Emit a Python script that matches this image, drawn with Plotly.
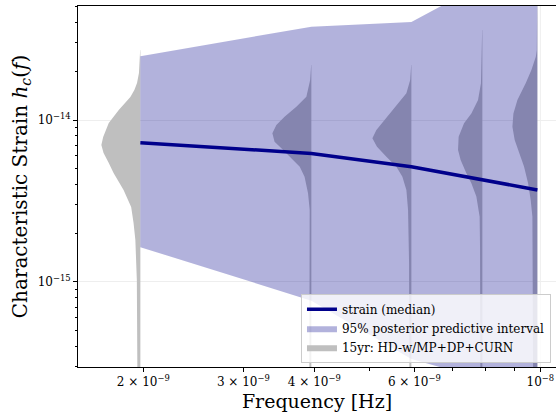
import plotly.graph_objects as go

# Frequency bins (Hz)
FREQS = [1.976e-9, 3.952e-9, 5.928e-9, 7.904e-9, 9.880e-9]

# Median characteristic strain and 95% posterior predictive interval
STRAIN_MEDIAN = [7.24e-15, 6.22e-15, 5.15e-15, 4.27e-15, 3.70e-15]
STRAIN_LOW = [1.64e-15, 7.67e-16, 3.35e-16, 2.51e-16, 2.00e-16]
STRAIN_HIGH = [2.48e-14, 3.77e-14, 4.03e-14, 6.92e-14, 7.94e-14]

# 15yr posterior density profiles per frequency bin: log10(h_c) levels and density
VIOLIN_LOG_H = [
    [-13.568, -13.599, -13.710, -13.772, -13.815, -13.858, -13.938, -14.019, -14.105,
     -14.154, -14.204, -14.265, -14.327, -14.432, -14.537, -14.636, -14.741, -14.988, -15.543],
    [-13.660, -13.753, -13.856, -13.918, -13.980, -14.031, -14.082, -14.134, -14.175,
     -14.227, -14.288, -14.350, -14.452, -14.556, -14.883, -15.543],
    [-13.660, -13.753, -13.835, -13.897, -13.980, -14.062, -14.113, -14.165, -14.227,
     -14.288, -14.350, -14.432, -14.556, -14.883, -15.543],
    [-13.444, -13.609, -13.773, -13.877, -13.959, -14.020, -14.103, -14.185, -14.247,
     -14.329, -14.391, -14.473, -14.597, -14.784, -15.543],
    [-13.259, -13.568, -13.609, -13.691, -13.773, -13.877, -13.959, -14.041, -14.123,
     -14.206, -14.288, -14.391, -14.494, -14.597, -14.784, -15.191, -15.543],
]
VIOLIN_DENSITY = [
    [0.005, 0.015, 0.035, 0.083, 0.15, 0.25, 0.54, 0.79, 0.93,
     0.975, 0.92, 0.79, 0.67, 0.42, 0.23, 0.17, 0.125, 0.088, 0.075],
    [0.005, 0.03, 0.125, 0.375, 0.67, 0.875, 0.975, 0.92, 0.75,
     0.54, 0.29, 0.17, 0.083, 0.042, 0.045, 0.05],
    [0.005, 0.03, 0.125, 0.33, 0.625, 0.875, 0.975, 0.86, 0.625,
     0.375, 0.225, 0.125, 0.083, 0.058, 0.05],
    [0.005, 0.012, 0.035, 0.108, 0.275, 0.458, 0.593, 0.608, 0.543,
     0.40, 0.275, 0.15, 0.068, 0.058, 0.05],
    [0.006, 0.015, 0.04, 0.15, 0.293, 0.50, 0.60, 0.625, 0.568,
     0.458, 0.333, 0.233, 0.168, 0.125, 0.125, 0.113, 0.108],
]

X_TICKS = [2e-9, 3e-9, 4e-9, 6e-9, 1e-8]
X_TICK_TEXT = ["2 × 10<sup>−9</sup>", "3 × 10<sup>−9</sup>", "4 × 10<sup>−9</sup>",
               "6 × 10<sup>−9</sup>", "10<sup>−8</sup>"]
X_MINOR = [5e-9, 7e-9, 8e-9, 9e-9]
Y_TICKS = [1e-15, 1e-14]
Y_TICK_TEXT = ["10<sup>−15</sup>", "10<sup>−14</sup>"]
Y_MINOR = [m * 10.0 ** e for e in (-16, -15, -14) for m in range(2, 10)]

# styling
FONT = "DejaVu Serif"
VIOLIN_WIDTH_DEC = 0.0704  # half-width of a unit-density violin, in decades of frequency
GREY = "rgb(191,191,191)"
BAND = "rgba(0,0,139,0.3)"
NAVY = "#00008b"

fig = go.Figure()

# half violins on the low-frequency side of each bin
for i, (f, logs, dens) in enumerate(zip(FREQS, VIOLIN_LOG_H, VIOLIN_DENSITY)):
    xs = [f * 10 ** (-d * VIOLIN_WIDTH_DEC) for d in dens] + [f] * len(logs)
    ys = [10 ** v for v in logs] + [10 ** v for v in logs[::-1]]
    xs = xs + [xs[0]]
    ys = ys + [ys[0]]
    fig.add_trace(go.Scatter(
        x=xs, y=ys, mode="lines", fill="toself", fillcolor=GREY,
        line=dict(width=0, color=GREY), hoverinfo="skip",
        name="15yr: HD-w/MP+DP+CURN", legendgroup="v", showlegend=(i == 0),
        legendrank=3,
    ))

# 95% band
fig.add_trace(go.Scatter(
    x=FREQS + FREQS[::-1], y=STRAIN_HIGH + STRAIN_LOW[::-1],
    mode="lines", fill="toself", fillcolor=BAND, line=dict(width=0, color=BAND),
    name="95% posterior predictive interval", legendrank=2,
))

# median
fig.add_trace(go.Scatter(
    x=FREQS, y=STRAIN_MEDIAN, mode="lines", line=dict(color=NAVY, width=3.5),
    name="strain (median)", legendrank=1,
))

fig.add_shape(type="line", xref="x", yref="paper", x0=1e-8, x1=1e-8, y0=0, y1=1,
              line=dict(color="rgb(238,238,238)", width=1), layer="below")

fig.update_layout(
    width=556, height=412,
    margin=dict(l=78, r=0, t=6, b=45),
    paper_bgcolor="white", plot_bgcolor="white",
    font=dict(family=FONT, color="black", size=12),
    legend=dict(
        x=0.9895, y=0.012, xanchor="right", yanchor="bottom",
        bgcolor="rgba(255,255,255,0.8)", bordercolor="rgb(204,204,204)", borderwidth=1,
        font=dict(family=FONT, size=12, color="black"),
        itemwidth=30, tracegroupgap=0,
    ),
    xaxis=dict(
        type="log", range=[-8.814, -7.9725],
        tickmode="array", tickvals=X_TICKS, ticktext=X_TICK_TEXT,
        ticks="outside", ticklen=4, tickwidth=1, tickcolor="black",
        showline=True, linecolor="black", linewidth=1, mirror=True,
        showgrid=False, zeroline=False,
        minor=dict(tickvals=X_MINOR, ticks="outside", ticklen=2.5, tickcolor="black",
                   showgrid=False),
        title=dict(text="Frequency [Hz]", font=dict(size=19, family=FONT), standoff=7),
        tickfont=dict(size=12, family=FONT),
    ),
    yaxis=dict(
        type="log", range=[-15.525, -13.296],
        tickmode="array", tickvals=Y_TICKS, ticktext=Y_TICK_TEXT,
        ticks="outside", ticklen=4, tickwidth=1, tickcolor="black",
        showline=True, linecolor="black", linewidth=1, mirror=False,
        showgrid=True, gridcolor="rgb(238,238,238)", gridwidth=1, zeroline=False,
        minor=dict(tickvals=Y_MINOR, ticks="outside", ticklen=2.5, tickcolor="black",
                   showgrid=False),
        title=dict(text="Characteristic Strain <i>h</i><sub><i>c</i></sub>(<i>f</i>)",
                   font=dict(size=20, family=FONT), standoff=4),
        tickfont=dict(size=12, family=FONT),
    ),
)

fig.write_html("out.html")
